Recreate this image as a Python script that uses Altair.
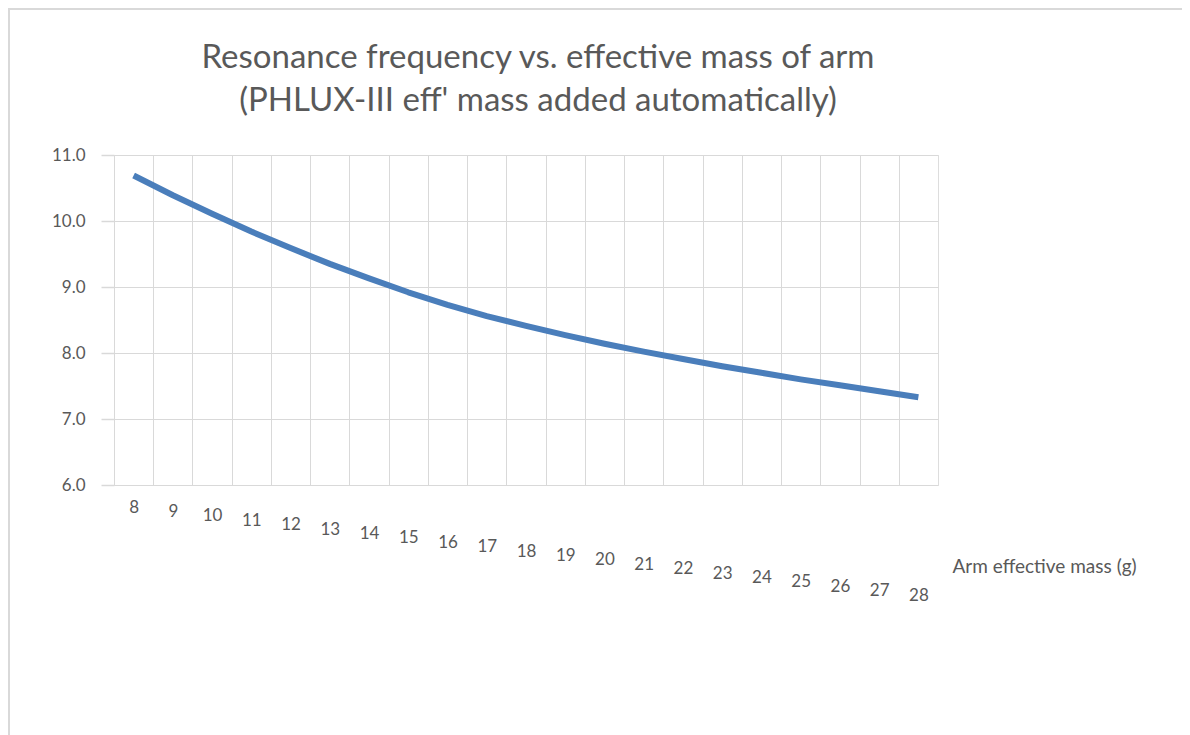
import altair as alt
import pandas as pd

# Data
arm_mass_g = [8, 9, 10, 11, 12, 13, 14, 15, 16, 17, 18, 19, 20, 21, 22, 23, 24, 25, 26, 27, 28]
resonance_hz = [10.69, 10.39, 10.11, 9.84, 9.59, 9.35, 9.13, 8.92, 8.73, 8.56, 8.41,
                8.27, 8.14, 8.02, 7.91, 7.80, 7.70, 7.60, 7.51, 7.42, 7.33]
y_ticks = [6, 7, 8, 9, 10, 11]
title_lines = ["Resonance frequency vs. effective mass of arm",
               "(PHLUX-III eff' mass added automatically)"]

df = pd.DataFrame({"mass": arm_mass_g, "freq": resonance_hz})

W, H = 824, 330
half_step = W / len(arm_mass_g) / 2
TEXT = "#595959"
GRID = "#d9d9d9"
FONT = "Lato"

line = alt.Chart(df).mark_line(color="#4A7EBB", strokeWidth=6, strokeCap="butt", strokeJoin="round").encode(
    x=alt.X("mass:Q",
            scale=alt.Scale(domain=[7.5, 28.5], nice=False, zero=False),
            axis=alt.Axis(values=arm_mass_g, format="d", title="Arm effective mass (g)",
                          grid=True, gridColor=GRID, domain=False, ticks=False,
                          tickOffset=-half_step, labelOffset=half_step,
                          labelPadding={"expr": "14 + (datum.value - 8) * 4.4"},
                          labelFontSize=17, labelColor=TEXT, labelFont=FONT,
                          titleFontSize=19, titleColor=TEXT, titleFont=FONT, titleFontWeight="normal",
                          titleX=W + 14, titleY=81, titleAlign="left", titleBaseline="middle")),
    y=alt.Y("freq:Q",
            scale=alt.Scale(domain=[6, 11], nice=False, zero=False),
            axis=alt.Axis(values=y_ticks, format=".1f", title=None,
                          grid=True, gridColor=GRID, domain=False, ticks=True, tickColor=GRID,
                          tickSize=13, tickWidth=1.5, labelPadding=16,
                          labelFontSize=17, labelColor=TEXT, labelFont=FONT)),
)

border_top = alt.Chart(df).mark_rule(color=GRID, strokeWidth=2).encode(
    x=alt.value(-106), x2=alt.value(1100), y=alt.value(-146))
border_left = alt.Chart(df).mark_rule(color=GRID, strokeWidth=2).encode(
    x=alt.value(-105), y=alt.value(-147), y2=alt.value(600))

chart = alt.layer(border_top, border_left, line).properties(
    width=W, height=H,
    title=alt.TitleParams(text=title_lines, fontSize=33, font=FONT, fontWeight="normal",
                          color=TEXT, anchor="middle", lineHeight=43, offset=-111, dx=12),
    autosize=alt.AutoSizeParams(type="none"),
    padding={"left": 106, "top": 147, "right": 244, "bottom": 250},
).configure_view(stroke=GRID, strokeWidth=1).configure(background="white")

chart.save("out.html", embed_options={"renderer": "svg", "actions": False})
